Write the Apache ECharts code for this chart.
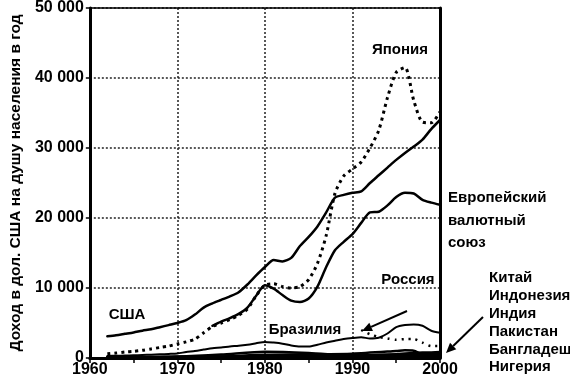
<!DOCTYPE html>
<html><head><meta charset="utf-8">
<script src="https://cdn.jsdelivr.net/npm/echarts@6/dist/echarts.min.js"></script>
<style>html,body{margin:0;padding:0;background:#fff}#c{width:570px;height:379px}</style>
</head><body><div id="c"></div>
<script>
// ---- data ----
const years = [1962,1963,1964,1965,1966,1967,1968,1969,1970,1971,1972,1973,1974,1975,1976,1977,1978,1979,1980,1981,1982,1983,1984,1985,1986,1987,1988,1989,1990,1991,1992,1993,1994,1995,1996,1997,1998,1999,2000];
const usa    = [3100,3250,3450,3650,3900,4100,4400,4700,5000,5400,6200,7200,7800,8300,8800,9400,10500,11800,13000,14000,13800,14300,16000,17300,18800,20800,22900,23300,23600,23800,25000,26100,27200,28300,29300,30200,31200,32700,34000];
const japan  = [600,700,850,950,1100,1300,1500,1700,2000,2300,2700,3600,4500,5000,5500,6100,7000,8900,10400,10600,10200,10000,10200,11200,13500,17500,23500,26000,27000,28000,30000,32500,37200,40800,41500,36800,33700,33600,35200];
const europeYears = [1974,1975,1976,1977,1978,1979,1980,1981,1982,1983,1984,1985,1986,1987,1988,1989,1990,1991,1992,1993,1994,1995,1996,1997,1998,1999,2000];
const europe = [4600,5200,5700,6300,7200,8900,10400,9900,9000,8200,8000,8500,10200,13000,15400,16600,17700,19300,20800,20900,21800,23000,23600,23500,22600,22200,21900];
const brazil = [300,320,350,380,430,480,520,580,650,850,1000,1200,1400,1500,1650,1750,1900,2100,2300,2200,2050,1800,1650,1650,1900,2200,2450,2700,2850,2950,2800,2900,3500,4400,4700,4800,4600,3900,3600];
const russiaYears = [1991,1992,1993,1994,1995,1996,1997,1998,1999,2000];
const russia = [4000,3400,3000,2800,2600,2700,2700,2200,1700,1700];
const smallYears = [1962,1965,1970,1975,1980,1985,1990,1995,1996,1997,1998,1999,2000];
const china      = [90,100,110,170,200,290,320,540,650,730,780,800,840];
const indonesia  = [80,80,90,220,480,530,620,1000,1100,1050,550,600,700];
const india      = [90,100,110,160,250,300,380,370,400,420,430,440,450];
const pakistan   = [90,110,170,150,300,350,400,480,500,480,470,450,450];
const bangladesh = [80,90,140,160,220,250,300,330,340,350,360,370,370];
const nigeria    = [100,130,220,500,900,700,300,250,280,300,300,310,300];
const xTicks = [1960,1970,1980,1990,2000];
const yTicks = [0,10000,20000,30000,40000,50000];

const pairs = (xs, ys) => xs.map((x,i)=>[x, ys[i]]);
const F = "'Liberation Sans', Arial, sans-serif";

const chart = echarts.init(document.getElementById('c'), null, {renderer:'canvas'});
function ln(name, xs, ys, w, dash){
  return {name, type:'line', data:pairs(xs,ys), symbol:'none', smooth:0.25, silent:true, clip:true,
    lineStyle:{color:'#000', width:w, type: dash||'solid', cap: dash ? 'butt':'round', join:'round'}, z: 5};
}
const option = {
  animation:false,
  grid:{left:80, right:130, top:8, bottom:21, containLabel:false},
  xAxis:[{
    type:'value', min:xTicks[0], max:xTicks[xTicks.length-1], interval:10,
    axisLine:{show:true, onZero:false, lineStyle:{color:'#000', width:3}},
    axisTick:{show:true, length:5, lineStyle:{color:'#000', width:1.5}},
    minorTick:{show:true, splitNumber:2, length:5, lineStyle:{color:'#000', width:1.5}},
    axisLabel:{color:'#000', fontFamily:F, fontWeight:'bold', fontSize:16, margin:4, formatter: v => String(v)},
    splitLine:{show:true, lineStyle:{color:'#222', width:1.5, type:[2,2]}}
  },{
    type:'value', position:'top', min:1960, max:2000, interval:10,
    axisLine:{show:true, onZero:false, lineStyle:{color:'#000', width:1.5}},
    axisTick:{show:false}, axisLabel:{show:false}, splitLine:{show:false}
  }],
  yAxis:[{
    type:'value', min:yTicks[0], max:yTicks[yTicks.length-1], interval:10000,
    axisLine:{show:true, onZero:false, lineStyle:{color:'#000', width:3}},
    axisTick:{show:true, length:4, lineStyle:{color:'#000', width:1.5}},
    axisLabel:{color:'#000', fontFamily:F, fontWeight:'bold', fontSize:16, margin:6,
      formatter: v => v===0 ? '0' : (v/1000)+' 000'},
    splitLine:{show:true, lineStyle:{color:'#222', width:1.5, type:[2,2]}},
    name:'Доход в дол. США на душу населения в год', nameLocation:'middle', nameGap:61, nameRotate:90,
    nameTextStyle:{color:'#000', fontFamily:F, fontWeight:'bold', fontSize:15.5}
  },{
    type:'value', position:'right', min:0, max:50000, interval:10000,
    axisLine:{show:true, onZero:false, lineStyle:{color:'#000', width:3}},
    axisTick:{show:false}, axisLabel:{show:false}, splitLine:{show:false}
  }],
  series:[
    ln('США', years, usa, 2.5),
    ln('Япония', years, japan, 3, [3,4]),
    ln('Европейский валютный союз', europeYears, europe, 2.5),
    ln('Бразилия', years, brazil, 2),
    ln('Россия', russiaYears, russia, 2.5, [2,5]),
    ln('Китай', smallYears, china, 2.5),
    ln('Индонезия', smallYears, indonesia, 2.5),
    ln('Индия', smallYears, india, 2.5),
    ln('Пакистан', smallYears, pakistan, 2.5),
    ln('Бангладеш', smallYears, bangladesh, 2.5),
    ln('Нигерия', smallYears, nigeria, 2.5)
  ]
};
chart.setOption(option);

const tx = (text, x, y, align, size) => ({type:'text', x, y, silent:true, z:20,
  style:{text, fill:'#000', font:`bold ${size||15}px ${F}`, textAlign:align||'left', textVerticalAlign:'middle'}});
function arrow(x1,y1,x2,y2){
  const a = Math.atan2(y2-y1, x2-x1), L=10, W=4.5;
  const bx = x2 - L*Math.cos(a), by = y2 - L*Math.sin(a);
  const px = -Math.sin(a), py = Math.cos(a);
  return [
    {type:'line', silent:true, z:20, shape:{x1, y1, x2:bx, y2:by}, style:{stroke:'#000', lineWidth:2}},
    {type:'polygon', silent:true, z:20, shape:{points:[[x2,y2],[bx+px*W,by+py*W],[bx-px*W,by-py*W]]}, style:{fill:'#000'}}
  ];
}
const g = [
  tx('Япония', 400, 50, 'center'),
  tx('США', 127, 315, 'center'),
  tx('Европейский', 448, 198),
  tx('валютный', 448, 221),
  tx('союз', 448, 243),
  tx('Россия', 408, 280, 'center'),
  tx('Бразилия', 305, 330, 'center'),
  tx('Китай', 489, 278),
  tx('Индонезия', 489, 296),
  tx('Индия', 489, 314),
  tx('Пакистан', 489, 332),
  tx('Бангладеш', 489, 350),
  tx('Нигерия', 489, 367)
].concat(arrow(407,311,362,331), arrow(483,317,446,353));
chart.setOption({graphic: g});
</script></body></html>
